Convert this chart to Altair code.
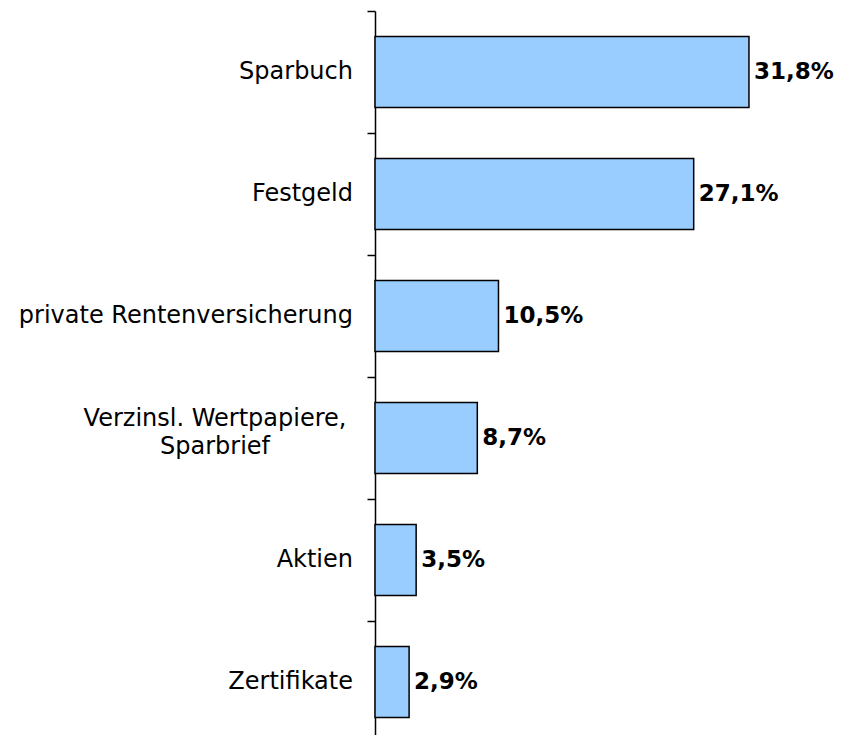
import altair as alt
import pandas as pd

categories = ["Sparbuch", "Festgeld", "private Rentenversicherung",
              "Verzinsl. Wertpapiere,\nSparbrief", "Aktien", "Zertifikate"]
values = [31.8, 27.1, 10.5, 8.7, 3.5, 2.9]

df = pd.DataFrame({
    "cat": categories,
    "val": values,
    "pos": list(range(len(categories))),
    "lbl": [f"{v:.1f}%".replace(".", ",") for v in values],
    "multi": ["\n" in c for c in categories],
})

H = 724
STEP = 122.0
W = 452
PX_PER_PCT = 11.76
ymax = H / STEP
yscale = alt.Scale(domain=[0, ymax], reverse=True, nice=False, zero=False)
xscale = alt.Scale(domain=[0, W / PX_PER_PCT], nice=False)

base = alt.Chart(df).transform_calculate(
    y0="datum.pos + 0.21", y1="datum.pos + 0.79", yc="datum.pos + 0.5")

bars = base.mark_rect(fill="#99CCFF", stroke="black", strokeWidth=1.5).encode(
    y=alt.Y("y0:Q", scale=yscale,
            axis=alt.Axis(title=None, labels=False, values=list(range(len(categories) + 1)),
                          tickSize=8, tickColor="black", tickWidth=1.5,
                          domainColor="black", domainWidth=1.5, grid=False)),
    y2="y1:Q",
    x=alt.X("val:Q", scale=xscale, axis=None),
    x2=alt.datum(0),
)

vals = base.mark_text(align="left", baseline="middle", dx=5, font="DejaVu Sans",
                      fontSize=23, fontWeight="bold", color="black").encode(
    y=alt.Y("yc:Q", scale=yscale), x=alt.X("val:Q", scale=xscale), text="lbl:N")

labels_single = base.transform_filter("!datum.multi").mark_text(
    align="right", baseline="middle", font="DejaVu Sans", fontSize=24, color="black").encode(
    y=alt.Y("yc:Q", scale=yscale), x=alt.value(-22), text="cat:N")

labels_multi = base.transform_filter("datum.multi").mark_text(
    align="center", baseline="middle", font="DejaVu Sans", fontSize=24, color="black",
    lineBreak="\n", lineHeight=28, dy=-19).encode(
    y=alt.Y("yc:Q", scale=yscale), x=alt.value(-160), text="cat:N")

chart = alt.layer(bars, vals, labels_single, labels_multi).properties(
    width=W, height=H,
    autosize=alt.AutoSizeParams(type="none"),
    padding={"left": 367, "top": 3, "right": 8, "bottom": 0},
).configure(background="white").configure_view(stroke=None)

chart.save("out.html", embed_options={"renderer": "svg", "actions": False})
